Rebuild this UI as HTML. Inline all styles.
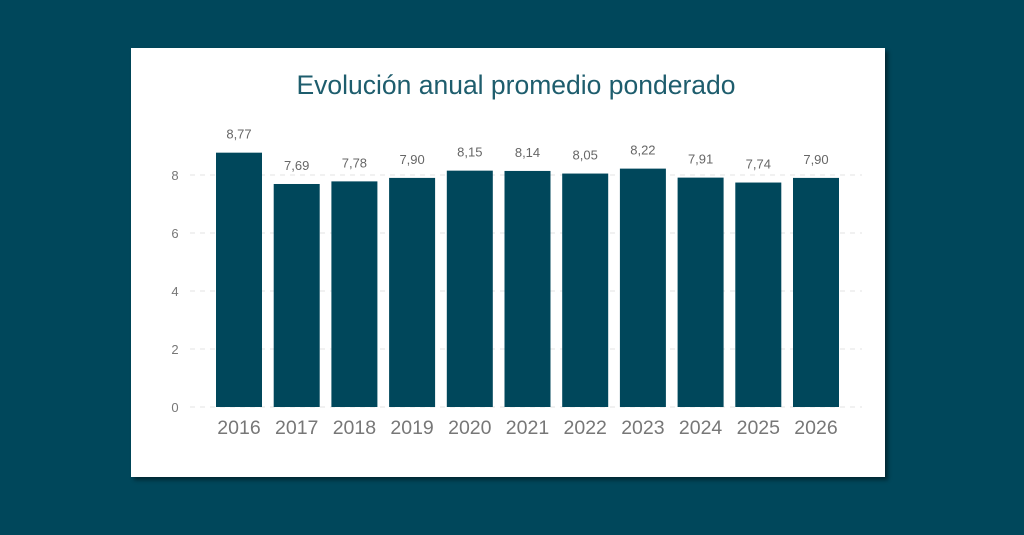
<!DOCTYPE html>
<html><head><meta charset="utf-8"><style>
body{margin:0;width:1024px;height:535px;background:#00475b;overflow:hidden;font-family:"Liberation Sans",sans-serif}
.card{position:absolute;left:131px;top:48px;width:754px;height:429px;background:#fff;box-shadow:3px 3px 4px rgba(0,0,0,.45)}
</style></head><body>
<div class="card"></div>
<svg width="1024" height="535" style="position:absolute;left:0;top:0" font-family="Liberation Sans, sans-serif">
<text x="516" y="94" text-anchor="middle" font-size="26.5" fill="#1e5d6d">Evolución anual promedio ponderado</text>
<g stroke="#e3e3e3" stroke-dasharray="5,5" stroke-width="1">
<line x1="190" x2="862" y1="407" y2="407"/><line x1="190" x2="862" y1="349" y2="349"/><line x1="190" x2="862" y1="291" y2="291"/><line x1="190" x2="862" y1="233" y2="233"/><line x1="190" x2="862" y1="175" y2="175"/>
</g>
<g font-size="13" fill="#777" text-anchor="middle">
<text x="175" y="412">0</text><text x="175" y="354">2</text><text x="175" y="296">4</text><text x="175" y="238">6</text><text x="175" y="180">8</text>
</g>
<g id="bars" fill="#00475b"></g>
<g id="vl" font-size="13" fill="#666" text-anchor="middle"></g>
<g id="xl" font-size="19.5" fill="#777" text-anchor="middle"></g>
</svg>
<script>
var v=[8.77,7.69,7.78,7.90,8.15,8.14,8.05,8.22,7.91,7.74,7.90];
var ns="http://www.w3.org/2000/svg";
v.forEach(function(d,i){var c=239+i*57.7,h=d*29;
var r=document.createElementNS(ns,"rect");r.setAttribute("x",c-23);r.setAttribute("y",407-h);r.setAttribute("width",46);r.setAttribute("height",h);document.getElementById("bars").appendChild(r);
var t=document.createElementNS(ns,"text");t.setAttribute("x",c);t.setAttribute("y",407-h-14);t.textContent=d.toFixed(2).replace(".",",");document.getElementById("vl").appendChild(t);
var y=document.createElementNS(ns,"text");y.setAttribute("x",c);y.setAttribute("y",434);y.textContent=2016+i;document.getElementById("xl").appendChild(y);});
</script>
</body></html>
